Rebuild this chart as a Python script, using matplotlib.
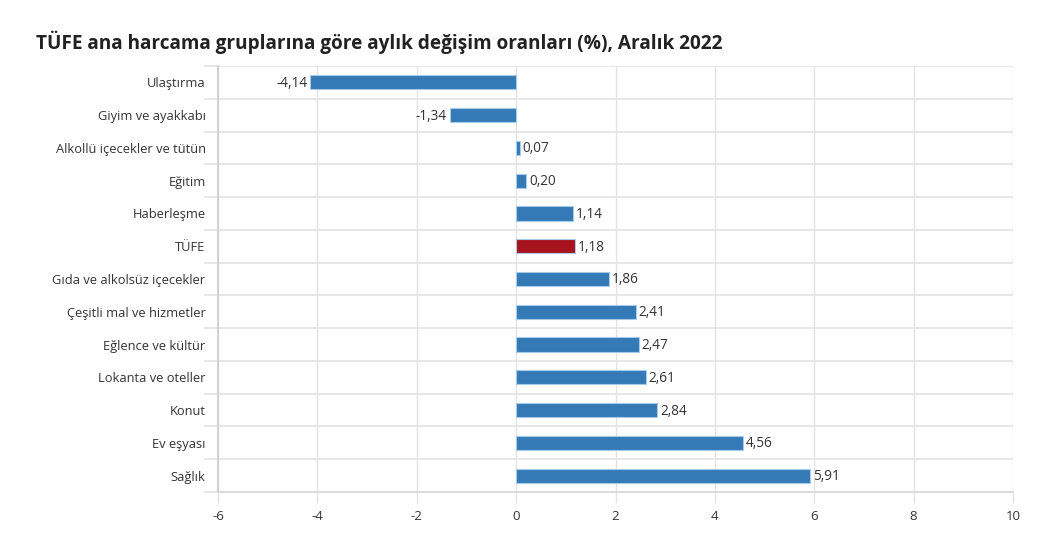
import matplotlib
matplotlib.use("Agg")
import matplotlib.pyplot as plt
import numpy as np
from matplotlib.ticker import FixedLocator

categories = ["Ulaştırma", "Giyim ve ayakkabı", "Alkollü içecekler ve tütün", "Eğitim",
              "Haberleşme", "TÜFE", "Gıda ve alkolsüz içecekler", "Çeşitli mal ve hizmetler",
              "Eğlence ve kültür", "Lokanta ve oteller", "Konut", "Ev eşyası", "Sağlık"]
values = [-4.14, -1.34, 0.07, 0.20, 1.14, 1.18, 1.86, 2.41, 2.47, 2.61, 2.84, 4.56, 5.91]
labels = ["-4,14", "-1,34", "0,07", "0,20", "1,14", "1,18", "1,86", "2,41", "2,47",
          "2,61", "2,84", "4,56", "5,91"]
xticks = [-6, -4, -2, 0, 2, 4, 6, 8, 10]
title = "TÜFE ana harcama gruplarına göre aylık değişim oranları (%), Aralık 2022"

plt.rcParams['font.family'] = ['Open Sans', 'DejaVu Sans']

fig = plt.figure(figsize=(10.62, 5.37), dpi=100)
ax = fig.add_axes([218/1062, 1-492/537, (1013-218)/1062, (492-66)/537])

blue = "#337ab7"
red = "#a8121c"
colors = [red if c == "TÜFE" else blue for c in categories]
y = np.arange(len(categories))
ax.barh(y, values, height=0.43, color=colors, edgecolor="#a6cbe8", linewidth=0.8, zorder=3)

for yi, v, lab in zip(y, values, labels):
    if v < 0:
        ax.text(v - 0.06, yi + 0.03, lab, ha="right", va="center", fontsize=9.8, color="#333333", zorder=4)
    else:
        ax.text(v + 0.06, yi + 0.03, lab, ha="left", va="center", fontsize=9.8, color="#333333", zorder=4)

ax.set_xlim(-6, 10)
ax.set_ylim(len(categories) - 0.5, -0.5)
ax.set_xticks(xticks)
ax.set_xticklabels([str(t) for t in xticks], fontsize=9.5, color="#333333")
ax.set_yticks(y)
ax.set_yticklabels(categories, fontsize=9.3, color="#333333")
ax.yaxis.set_minor_locator(FixedLocator(np.arange(-0.5, len(categories), 1.0)))

ax.tick_params(axis="y", which="major", length=0, pad=9)
ax.tick_params(axis="y", which="minor", length=10, color="#e3e3e3", width=1.2)
ax.tick_params(axis="x", which="major", length=8, color="#e3e3e3", width=1, pad=5)

ax.grid(axis="x", which="major", color="#e3e3e3", linewidth=1, zorder=0)
ax.grid(axis="y", which="minor", color="#e3e3e3", linewidth=1.2, zorder=0)
ax.grid(axis="y", which="major", visible=False)

for s in ["top", "right"]:
    ax.spines[s].set_visible(False)
ax.spines["left"].set_color("#cfcfcf")
ax.spines["left"].set_linewidth(1.3)
ax.spines["bottom"].set_color("#d9d9d9")
ax.spines["bottom"].set_linewidth(1.3)

fig.text(36/1062, 1-42/537, title, fontsize=13.7, fontweight="bold", color="#222222",
         ha="left", va="center")

fig.savefig("out.png", dpi=100)
